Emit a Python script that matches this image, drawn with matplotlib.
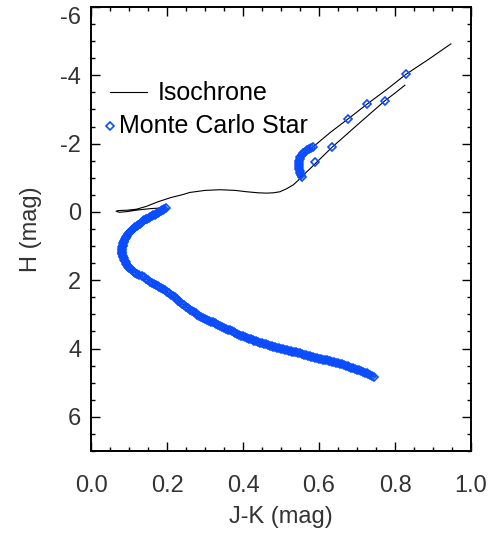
import matplotlib
matplotlib.use('Agg')
import matplotlib.pyplot as plt
from matplotlib.ticker import MultipleLocator

plt.rcParams['font.family'] = ['Liberation Sans', 'DejaVu Sans']
plt.rcParams['axes.unicode_minus'] = False

# isochrone: main sequence -> turnoff hook -> subgiant -> red giant branch
iso_jk = [0.747, 0.708, 0.673, 0.620, 0.568, 0.515, 0.462, 0.410, 0.357, 0.304,
          0.260, 0.217, 0.186, 0.151, 0.122, 0.100, 0.090, 0.082, 0.081, 0.086,
          0.097, 0.116, 0.140, 0.168, 0.197, 0.160, 0.125, 0.095, 0.075, 0.066,
          0.072, 0.095, 0.120, 0.145, 0.177, 0.210, 0.239, 0.260, 0.300, 0.340,
          0.380, 0.410, 0.440, 0.462, 0.480, 0.497, 0.515, 0.532, 0.545, 0.554,
          0.575, 0.600, 0.634, 0.700, 0.774, 0.800, 0.826]
iso_h = [4.84, 4.64, 4.52, 4.35, 4.20, 4.05, 3.89, 3.69, 3.42, 3.16,
         2.86, 2.49, 2.23, 1.99, 1.82, 1.64, 1.44, 1.24, 1.12, 0.88,
         0.66, 0.43, 0.25, 0.08, -0.12, -0.10, -0.06, -0.01, 0.01, -0.02,
         -0.04, -0.05, -0.08, -0.16, -0.30, -0.42, -0.50, -0.57, -0.63, -0.65,
         -0.63, -0.59, -0.56, -0.55, -0.56, -0.59, -0.68, -0.79, -0.92, -1.03,
         -1.25, -1.52, -1.89, -2.54, -3.26, -3.48, -3.71]

# helium burning: red clump and asymptotic giant branch
he_jk = [0.552, 0.547, 0.549, 0.556, 0.570, 0.585, 0.630, 0.675, 0.727, 0.780,
         0.829, 0.890, 0.947]
he_h = [-1.05, -1.33, -1.55, -1.70, -1.82, -1.91, -2.33, -2.71, -3.16, -3.60,
        -4.03, -4.48, -4.92]

# Monte Carlo stars along the main sequence
ms_jk = [0.197, 0.193, 0.190, 0.186, 0.183, 0.179, 0.176, 0.172, 0.168, 0.164,
         0.160, 0.156, 0.152, 0.148, 0.144, 0.140, 0.136, 0.132, 0.128, 0.124,
         0.121, 0.117, 0.114, 0.111, 0.108, 0.105, 0.102, 0.099, 0.097, 0.095,
         0.093, 0.091, 0.089, 0.087, 0.086, 0.085, 0.084, 0.083, 0.082, 0.081,
         0.081, 0.081, 0.081, 0.082, 0.083, 0.084, 0.086, 0.088, 0.090, 0.092,
         0.093, 0.095, 0.097, 0.100, 0.104, 0.108, 0.112, 0.117, 0.122, 0.127,
         0.133, 0.139, 0.145, 0.151,
         0.155, 0.160, 0.165, 0.170, 0.175, 0.180, 0.185, 0.190, 0.195, 0.200,
         0.205, 0.210, 0.215, 0.220, 0.225, 0.230, 0.235, 0.240, 0.245, 0.250,
         0.255, 0.260, 0.265, 0.270, 0.275, 0.280, 0.285, 0.290, 0.295, 0.300,
         0.305, 0.310, 0.315, 0.320, 0.325, 0.330, 0.335, 0.340, 0.345, 0.350,
         0.355, 0.360, 0.365, 0.370, 0.375, 0.380, 0.385, 0.390, 0.395, 0.400,
         0.405, 0.410, 0.415, 0.420, 0.425, 0.430, 0.435, 0.440, 0.445, 0.450,
         0.455, 0.460, 0.465, 0.470, 0.475, 0.480, 0.485, 0.490, 0.495, 0.500,
         0.505, 0.510, 0.515, 0.520, 0.525, 0.530, 0.535, 0.540, 0.545, 0.550,
         0.555, 0.560, 0.565, 0.570, 0.575, 0.580, 0.585, 0.590, 0.595, 0.600,
         0.605, 0.610, 0.615, 0.620, 0.625, 0.630, 0.635, 0.640, 0.645, 0.650,
         0.655, 0.660, 0.665, 0.670, 0.675, 0.680, 0.685, 0.690, 0.695, 0.700,
         0.705, 0.710, 0.715, 0.720, 0.725, 0.730, 0.735, 0.740, 0.745]
ms_h = [-0.12, -0.095, -0.07, -0.045, -0.02, 0.005, 0.03, 0.055, 0.08, 0.10,
        0.12, 0.145, 0.17, 0.195, 0.22, 0.25, 0.28, 0.31, 0.34, 0.37,
        0.40, 0.43, 0.46, 0.49, 0.52, 0.555, 0.59, 0.625, 0.66, 0.695,
        0.73, 0.765, 0.80, 0.84, 0.88, 0.92, 0.96, 1.00, 1.04, 1.08,
        1.12, 1.16, 1.20, 1.24, 1.28, 1.32, 1.36, 1.40, 1.44, 1.48,
        1.52, 1.56, 1.60, 1.64, 1.68, 1.715, 1.75, 1.785, 1.82, 1.85,
        1.89, 1.92, 1.955, 1.99,
        2.04, 2.07, 2.10, 2.13, 2.16, 2.195, 2.23, 2.265, 2.30, 2.34,
        2.38, 2.42, 2.46, 2.505, 2.55, 2.595, 2.64, 2.685, 2.73, 2.775,
        2.82, 2.86, 2.90, 2.935, 2.97, 3.005, 3.04, 3.07, 3.10, 3.13,
        3.16, 3.185, 3.21, 3.235, 3.26, 3.285, 3.31, 3.34, 3.37, 3.395,
        3.42, 3.445, 3.47, 3.495, 3.52, 3.545, 3.57, 3.595, 3.62, 3.645,
        3.67, 3.69, 3.71, 3.73, 3.75, 3.77, 3.79, 3.81, 3.83, 3.845,
        3.86, 3.88, 3.90, 3.915, 3.93, 3.945, 3.96, 3.975, 3.99, 4.005,
        4.02, 4.035, 4.05, 4.065, 4.08, 4.09, 4.10, 4.115, 4.13, 4.145,
        4.16, 4.175, 4.19, 4.205, 4.22, 4.235, 4.25, 4.265, 4.28, 4.295,
        4.31, 4.325, 4.34, 4.35, 4.36, 4.375, 4.39, 4.405, 4.42, 4.435,
        4.45, 4.465, 4.48, 4.50, 4.52, 4.54, 4.56, 4.58, 4.60, 4.62,
        4.64, 4.66, 4.68, 4.705, 4.73, 4.755, 4.78, 4.81, 4.84]

# red clump stars
clump_jk = [0.556, 0.553, 0.551, 0.549, 0.548, 0.547, 0.547, 0.547, 0.548, 0.549,
            0.551, 0.554, 0.558, 0.563, 0.568, 0.573, 0.579, 0.585]
clump_h = [-1.02, -1.08, -1.14, -1.20, -1.26, -1.32, -1.38, -1.44, -1.50, -1.56,
           -1.62, -1.67, -1.72, -1.76, -1.80, -1.84, -1.87, -1.91]

# bright giants
giant_jk = [0.589, 0.635, 0.675, 0.727, 0.774, 0.829]
giant_h = [-1.47, -1.89, -2.71, -3.16, -3.26, -4.03]

star_color = '#0a4cff'
text_color = '#333333'

fig = plt.figure(figsize=(4.99, 5.37), dpi=100)
ax = fig.add_axes([91 / 499, 1 - 451 / 537, 380 / 499, 444 / 537])

ax.plot(iso_jk, iso_h, color='black', lw=0.8, zorder=2)
ax.plot(he_jk, he_h, color='black', lw=0.8, zorder=2)

for xs, ys in [(ms_jk, ms_h), (clump_jk, clump_h), (giant_jk, giant_h)]:
    ax.plot(xs, ys, ls='none', marker='D', ms=4.5, mew=1.2,
            mfc='none', mec=star_color, zorder=3)

ax.set_xlim(0.0, 1.0)
ax.set_ylim(7, -6)

ax.xaxis.set_major_locator(MultipleLocator(0.2))
ax.xaxis.set_minor_locator(MultipleLocator(0.05))
ax.yaxis.set_major_locator(MultipleLocator(2))
ax.yaxis.set_minor_locator(MultipleLocator(0.5))
ax.set_xticks([0.0, 0.2, 0.4, 0.6, 0.8, 1.0])
ax.set_xticklabels(['0.0', '0.2', '0.4', '0.6', '0.8', '1.0'])
ax.set_yticks([-6, -4, -2, 0, 2, 4, 6])
ax.set_yticklabels(['-6', '-4', '-2', '0', '2', '4', '6'])

ax.tick_params(which='both', direction='in', top=True, right=True,
               labelsize=17, labelcolor=text_color, width=1.0)
ax.tick_params(which='major', length=6.5)
ax.tick_params(which='minor', length=3.2)
ax.tick_params(axis='x', pad=17)
ax.tick_params(axis='y', pad=7)
for s in ax.spines.values():
    s.set_linewidth(1.4)

# keep the top label inside the figure
ax.get_yticklabels()[0].set_va('top')

ax.set_xlabel('J-K (mag)', fontsize=17, color=text_color, labelpad=7)
ax.set_ylabel('H (mag)', fontsize=17, color=text_color)
ax.yaxis.set_label_coords(-0.13, 0.5)

# legend
ax.plot([0.05, 0.147], [0.809, 0.809], color='black', lw=0.8,
        transform=ax.transAxes)
ax.text(0.1745, 0.7905, 'Isochrone', fontsize=18, color='black',
        va='baseline', ha='left', transform=ax.transAxes)
ax.plot([0.05], [0.732], ls='none', marker='D', ms=4.5, mew=1.2,
        mfc='none', mec=star_color, transform=ax.transAxes)
ax.text(0.0745, 0.7155, 'Monte Carlo Star', fontsize=18, color='black',
        va='baseline', ha='left', transform=ax.transAxes)

fig.savefig('out.png', dpi=100)
